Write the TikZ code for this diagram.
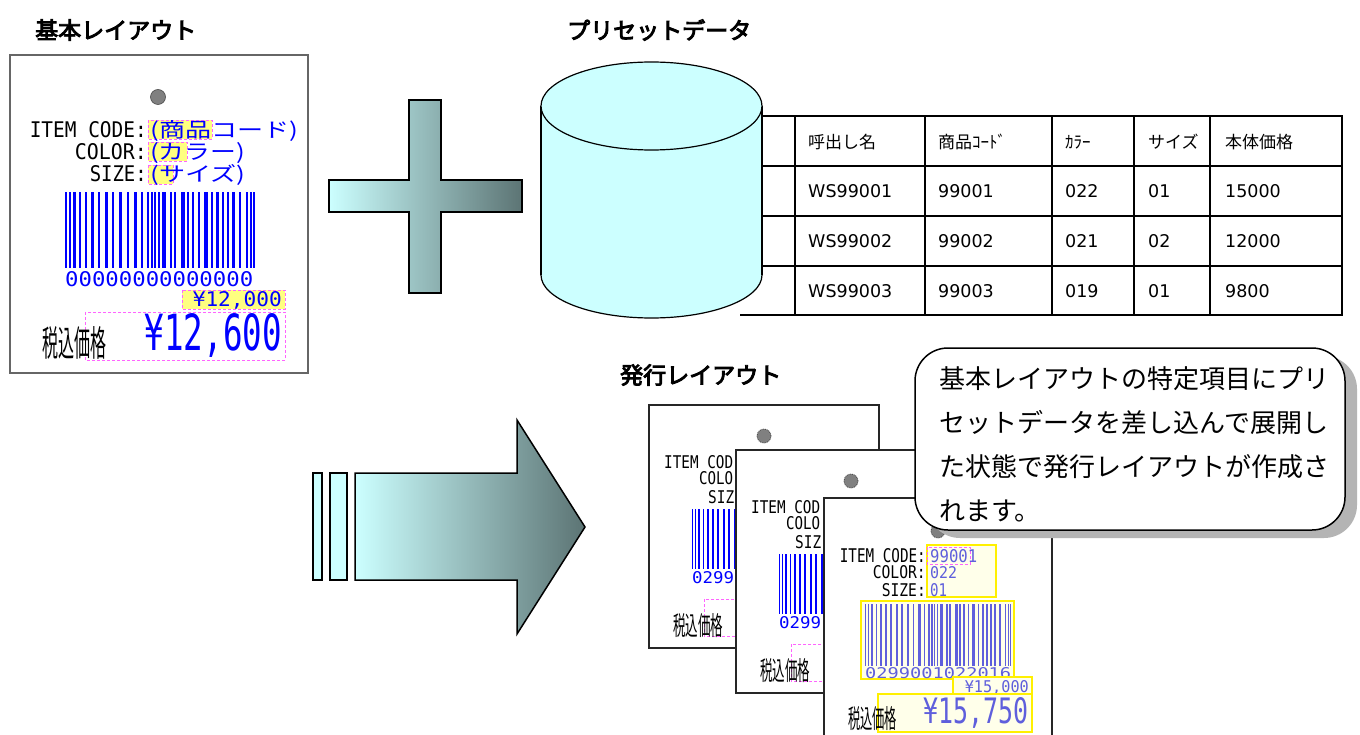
\documentclass[tikz,border=0pt]{standalone}
\usepackage{fontspec}
\usepackage{graphicx}
\usetikzlibrary{shadows}
\newfontfamily\jp{Noto Sans CJK JP}
\newfontfamily\jpbold{Noto Sans CJK JP}[FakeBold=4]
\newfontfamily\mono{DejaVu Sans Mono}
\newfontfamily\tbl{DejaVu Sans}
\definecolor{cyanlite}{RGB}{204,255,255}
\definecolor{tealmid}{RGB}{165,208,207}
\definecolor{slate}{RGB}{92,116,116}
\definecolor{tagblue}{RGB}{0,0,255}
\definecolor{paleblue}{RGB}{95,95,220}
\definecolor{hlyellow}{RGB}{255,255,128}
\definecolor{paleyellow}{RGB}{255,255,234}
\definecolor{boxyellow}{RGB}{255,240,0}
\definecolor{pinkline}{RGB}{255,100,255}
\definecolor{shadowgray}{RGB}{180,180,180}
\definecolor{holegray}{RGB}{128,128,128}

\newcommand\sq[3]{\resizebox{#1pt}{#2pt}{#3}}
\newcommand\fsz[1]{\fontsize{#1}{#1}\selectfont}
\newcommand\barlist{1/2,5/1.5,9/3,15/2,21/2,27/3,34/2,41/3,48/2,55/3,63/2,70/3,77/2,83/2,87/2,90/2,94/2,98/4,106/2,110/2,117/4,123/2,128/2,134/2,140/4,147/2,152/3,158/2,163/2,168/3,175/2,182/2,186/1.5,189/1.5}

\tikzset{
  lbl/.style={inner sep=0pt},
  tagtitle/.style={inner sep=0pt, anchor=west, font=\jpbold\fsz{23}},
  tagframe/.style={draw=black!85, line width=2pt, fill=white},
  holedot/.style={circle, fill=holegray, draw=black!75, densely dotted, line width=0.8pt, minimum size=14pt, inner sep=0pt},
  hlbox/.style={fill=hlyellow, draw=pinkline, densely dashed, line width=0.6pt},
  pinkbox/.style={draw=pinkline, densely dashed, line width=0.6pt},
  valbox/.style={draw=boxyellow, line width=1.8pt, fill=paleyellow},
  tablerule/.style={line width=1.5pt},
  tcell/.style={inner sep=0pt, anchor=west, font=\tbl\fsz{17.5}},
  shade3/.style={left color=cyanlite, middle color=tealmid, right color=slate, draw=black, line width=1.5pt},
}

\begin{document}
\begin{tikzpicture}[x=1pt, y=-1pt]
    \fill[white] (0,0) rectangle (1360,735);
    \useasboundingbox (0,0) rectangle (1360,735);

    % titles
    \node[tagtitle] (tbasic) at (35,30) {基本レイアウト};
    \node[tagtitle] (tpreset) at (567,30) {プリセットデータ};
    \node[tagtitle] (tissue) at (620,375) {発行レイアウト};

    % basic layout tag
    \draw[draw=black!60, line width=2.5pt, fill=white] (10,55) rectangle (308,373);
    \node[circle, fill=holegray, draw=black!70, line width=0.6pt, minimum size=15pt, inner sep=0pt] (hole0) at (158,97) {};
    \fill[hlyellow] (148,120) rectangle (212,139);
    \draw[pinkbox] (148,120) rectangle (212,139);
    \fill[hlyellow] (148,142) rectangle (187,161);
    \draw[pinkbox] (148,142) rectangle (187,161);
    \fill[hlyellow] (148,165) rectangle (173,184);
    \draw[pinkbox] (148,165) rectangle (173,184);
    \node[lbl, anchor=base east] (item0) at (147,138) {\sq{117}{16}{\mono ITEM CODE:}};
    \node[lbl, anchor=base east] (color0) at (147,160) {\sq{72}{16}{\mono COLOR:}};
    \node[lbl, anchor=base east] (size0) at (147,182) {\sq{57}{16}{\mono SIZE:}};
    \node[lbl, anchor=base west, text=tagblue] (itemv0) at (150,138) {\sq{148}{17}{\jp (商品コード)}};
    \node[lbl, anchor=base west, text=tagblue] (colorv0) at (150,160) {\sq{95}{17}{\jp (カラー)}};
    \node[lbl, anchor=base west, text=tagblue] (sizev0) at (150,182) {\sq{95}{17}{\jp (サイズ)}};
    \foreach \bx/\bw in \barlist
        \fill[tagblue] ({64+\bx},192) rectangle ({64+\bx+\bw},268);
    \node[lbl, anchor=base west, text=tagblue] (digits0) at (65,287) {\sq{188}{15}{\mono 00000000000000}};
    \draw[hlbox] (182,290) rectangle (285,309);
    \node[lbl, anchor=base east, text=tagblue] (price0) at (282,307) {\sq{89}{15}{\mono ¥12,000}};
    \draw[pinkbox] (85,312) rectangle (285,360);
    \node[lbl, anchor=base east, text=tagblue] (total0) at (282,350) {\sq{137}{37}{\mono ¥12,600}};
    \node[lbl, anchor=base west] (tax0) at (42,356) {\sq{64}{30}{\jp 税込価格}};

    % plus
    \draw[shade3, line width=2pt] (409,100) -- (441,100) -- (441,180) -- (522,180) -- (522,212) -- (441,212)
        -- (441,293) -- (409,293) -- (409,212) -- (329,212) -- (329,180) -- (409,180) -- cycle;

    % preset table
    \draw[tablerule] (740,116) -- (1342,116) -- (1342,315) -- (740,315);
    \foreach \ry in {166,216,266}
        \draw[tablerule] (740,\ry) -- (1342,\ry);
    \foreach \cx in {795,925,1052,1134,1210}
        \draw[tablerule] (\cx,116) -- (\cx,315);
    \foreach \cx/\h [count=\i] in {808/呼出し名, 938/商品ｺｰﾄﾞ, 1065/ｶﾗｰ, 1148/サイズ, 1225/本体価格}
        \node[tcell, font=\jp\fsz{17}] (h\i) at (\cx,142) {\h};
    \foreach \ry/\a/\b/\c/\d/\e [count=\r] in {191/WS99001/99001/022/01/15000, 241/WS99002/99002/021/02/12000, 291/WS99003/99003/019/01/9800}{
        \node[tcell] (d\r-1) at (808,\ry) {\a};
        \node[tcell] (d\r-2) at (938,\ry) {\b};
        \node[tcell] (d\r-3) at (1065,\ry) {\c};
        \node[tcell] (d\r-4) at (1148,\ry) {\d};
        \node[tcell] (d\r-5) at (1225,\ry) {\e};
    }

    % database cylinder
    \fill[cyanlite] (541,106) rectangle (762,275);
    \fill[cyanlite] (651.5,275) ellipse [x radius=110.5, y radius=43];
    \draw[line width=1.2pt] (541,106) -- (541,275) (762,106) -- (762,275);
    \begin{scope}
        \clip (530,275) rectangle (775,325);
        \draw[line width=1.2pt] (651.5,275) ellipse [x radius=110.5, y radius=43];
    \end{scope}
    \draw[line width=1.2pt, fill=cyanlite] (651.5,106) ellipse [x radius=110.5, y radius=44];

    % arrow
    \filldraw[fill=cyanlite, draw=black, line width=1.5pt] (313,473) rectangle (322,580);
    \filldraw[fill=cyanlite, draw=black, line width=1.5pt] (330,473) rectangle (347,580);
    \draw[shade3] (355,473) -- (517,473) -- (517,420) -- (585,527) -- (517,634) -- (517,580) -- (355,580) -- cycle;

    % issued tags behind
    \foreach \tx/\ty [count=\k] in {649/405, 736/450}{
        \begin{scope}[shift={(\tx,\ty)}]
            \draw[tagframe] (0,0) rectangle (230,243);
            \node[holedot] (hole\k) at (115,31) {};
            \node[lbl, anchor=base west] (item\k) at (15,63) {\sq{69}{13}{\mono ITEM COD}};
            \node[lbl, anchor=base west] (color\k) at (50,79) {\sq{34}{13}{\mono COLO}};
            \node[lbl, anchor=base west] (size\k) at (59,98) {\sq{26}{13}{\mono SIZ}};
            \foreach \bx/\bw in \barlist
                \fill[tagblue] ({42+0.774*\bx},104) rectangle ({42+0.774*(\bx+\bw)},164);
            \node[lbl, anchor=base west, text=tagblue] (digits\k) at (43,178) {\sq{42}{12}{\mono 0299}};
            \draw[pinkbox] (55,194) rectangle (208,231);
            \node[lbl, anchor=base west] (tax\k) at (24,230) {\sq{50}{22}{\jp 税込価格}};
        \end{scope}
    }

    % issued tag in front
    \begin{scope}[shift={(824,498)}]
        \draw[tagframe] (0,0) rectangle (228,250);
        \node[holedot] (hole3) at (114,33) {};
        \draw[valbox] (103,47) rectangle (172,99);
        \draw[pinkbox] (103,49) rectangle (146,66);
        \node[lbl, anchor=base east] (item3) at (102,64) {\sq{86}{14}{\mono ITEM CODE:}};
        \node[lbl, anchor=base east] (color3) at (102,80) {\sq{53}{13}{\mono COLOR:}};
        \node[lbl, anchor=base east] (size3) at (102,98) {\sq{44}{13}{\mono SIZE:}};
        \node[lbl, anchor=base west, text=paleblue] (itemv3) at (106,64) {\sq{47}{13}{\mono 99001}};
        \node[lbl, anchor=base west, text=paleblue] (colorv3) at (106,80) {\sq{27}{12}{\mono 022}};
        \node[lbl, anchor=base west, text=paleblue] (sizev3) at (106,98) {\sq{17}{13}{\mono 01}};
        \draw[valbox] (37,103) rectangle (190,181);
        \foreach \bx/\bw in \barlist
            \fill[paleblue] ({40+0.774*\bx},106) rectangle ({40+0.774*(\bx+\bw)},168);
        \node[lbl, anchor=base west, text=paleblue] (digits3) at (41,180) {\sq{146}{11}{\mono 0299001022016}};
        \draw[valbox] (129,179) rectangle (208,196);
        \node[lbl, anchor=base east, text=paleblue] (price3) at (205,194) {\sq{64}{12}{\mono ¥15,000}};
        \draw[valbox] (54,196) rectangle (208,234);
        \node[lbl, anchor=base east, text=paleblue] (total3) at (205,225) {\sq{105}{26}{\mono ¥15,750}};
        \node[lbl, anchor=base west] (tax3) at (24,230) {\sq{49}{22}{\jp 税込価格}};
    \end{scope}

    % callout
    \node[draw, line width=1.5pt, fill=white, rounded corners=33pt, minimum width=430pt, minimum height=182pt,
        drop shadow={shadow xshift=12pt, shadow yshift=-8pt, fill=shadowgray, opacity=1}] (callout) at (1130,439) {};
    \node[lbl, anchor=north west, align=left, font=\jp\fontsize{26}{44}\selectfont] (calltext)
        at ([xshift=25pt, yshift=-19pt]callout.north west)
        {基本レイアウトの特定項目にプリ\\セットデータを差し込んで展開し\\た状態で発行レイアウトが作成さ\\れます。};
\end{tikzpicture}
\end{document}
